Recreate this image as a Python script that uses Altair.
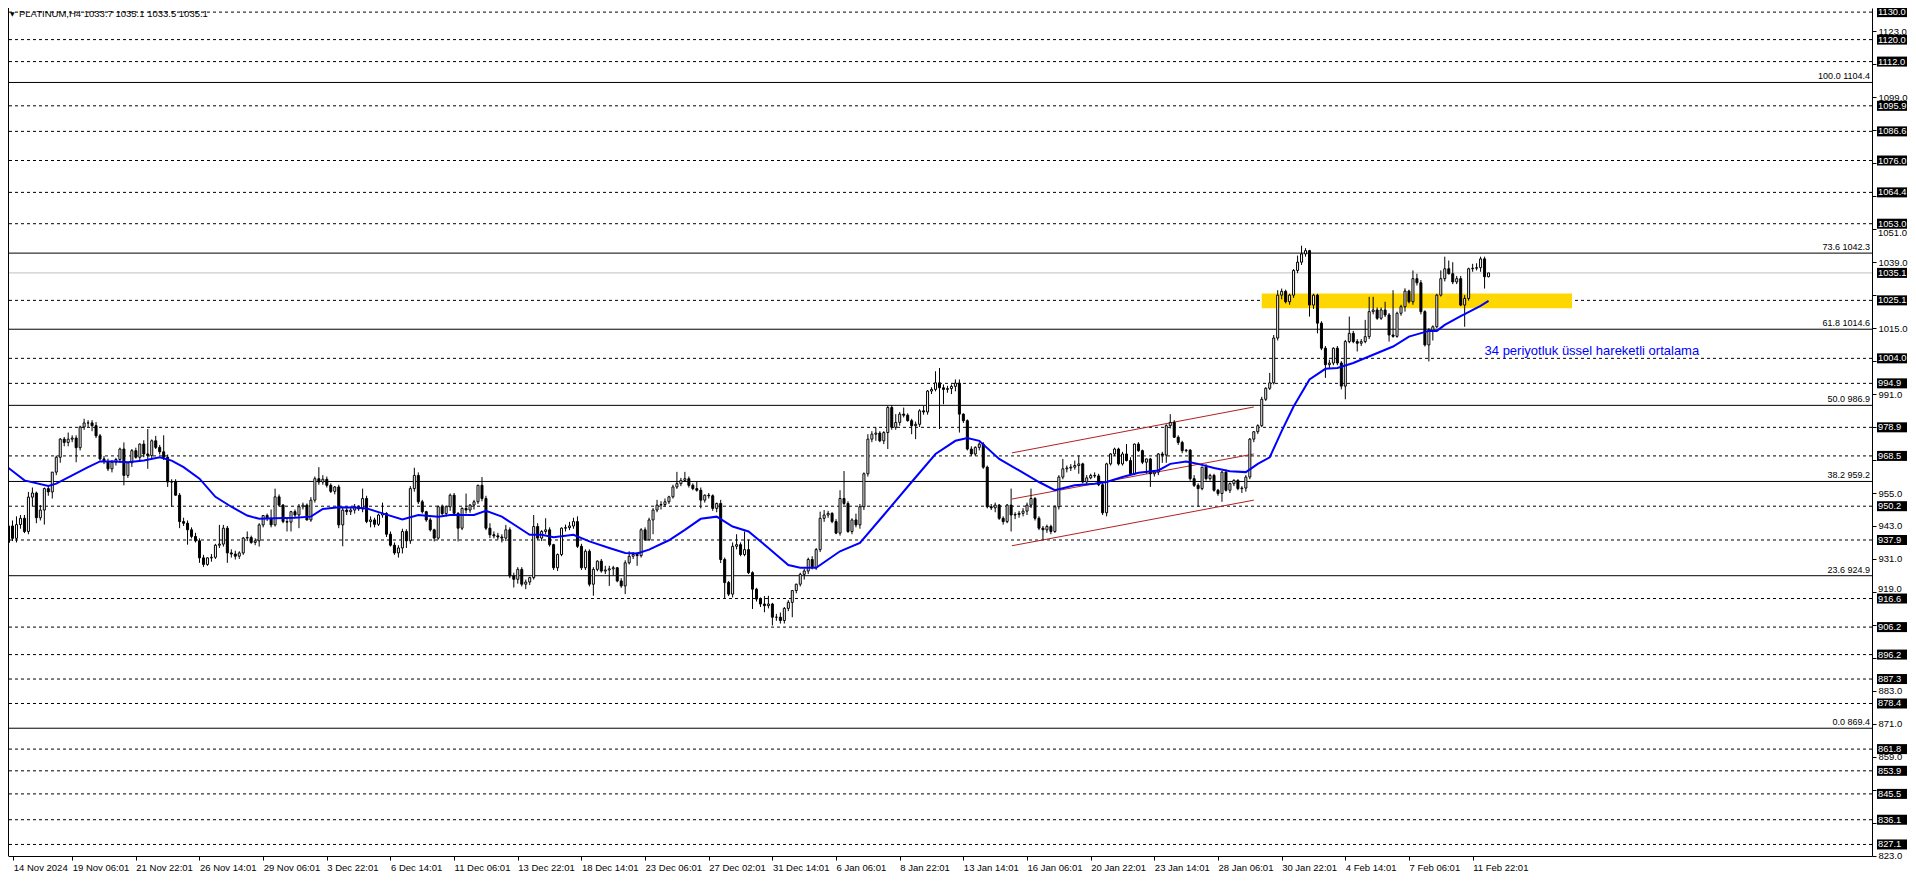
import json
import altair as alt
import pandas as pd

# ---------------- data ----------------
OPEN = [
    937.0, 943.0, 938.5, 943.5, 945.8, 941.0, 953.5, 955.0, 946.0, 948.8,
    956.6, 955.4, 962.6, 968.0, 974.6, 973.4, 974.6, 975.0, 971.5, 979.0,
    980.5, 980.5, 979.5, 975.8, 967.4, 966.5, 963.8, 966.2, 967.2, 971.0,
    961.4, 966.0, 970.4, 968.0, 972.8, 969.2, 968.6, 974.0, 971.6, 970.0,
    968.0, 959.0, 959.0, 954.2, 944.6, 944.0, 941.6, 939.2, 937.6, 931.4,
    929.0, 931.4, 931.6, 936.0, 936.4, 942.2, 933.2, 932.8, 932.0, 933.2,
    938.6, 938.8, 937.0, 937.6, 943.4, 946.8, 945.8, 943.4, 953.6, 950.6,
    944.6, 944.4, 948.2, 947.0, 950.0, 950.6, 945.2, 952.4, 960.2, 959.0,
    960.0, 957.8, 955.6, 957.2, 943.4, 948.8, 948.2, 948.8, 950.0, 949.2,
    953.0, 944.6, 945.2, 943.6, 947.0, 947.6, 940.0, 936.0, 933.2, 935.0,
    941.0, 937.6, 956.6, 961.4, 951.8, 948.2, 945.2, 941.6, 938.6, 950.0,
    947.5, 950.0, 954.2, 947.6, 942.2, 949.4, 948.8, 950.6, 951.8, 957.8,
    953.0, 942.2, 939.8, 939.4, 939.0, 938.6, 941.6, 924.8, 923.6, 927.2,
    921.8, 922.6, 924.2, 942.8, 938.6, 941.0, 941.6, 936.2, 927.8, 932.6,
    942.2, 942.4, 943.0, 944.6, 935.6, 927.8, 933.8, 921.8, 927.2, 930.2,
    926.6, 927.0, 927.4, 927.8, 923.0, 921.2, 929.6, 932.0, 932.6, 932.2,
    941.6, 938.0, 945.2, 948.8, 950.6, 950.8, 951.8, 953.6, 957.2, 958.4,
    959.6, 960.2, 957.8, 956.6, 956.0, 952.4, 954.2, 954.0, 949.4, 951.2,
    930.8, 922.4, 918.2, 935.6, 936.2, 932.6, 934.4, 926.0, 920.0, 916.4,
    914.6, 914.0, 914.6, 909.8, 909.8, 908.6, 913.0, 915.2, 919.5, 921.8,
    925.4, 926.6, 930.8, 927.8, 934.4, 945.8, 947.0, 947.6, 944.6, 940.4,
    953.0, 951.2, 941.0, 945.2, 943.4, 950.0, 962.0, 974.6, 976.4, 976.8,
    974.0, 977.0, 986.1, 978.9, 980.7, 983.7, 983.3, 981.3, 979.5, 980.0,
    984.9, 984.5, 992.1, 992.7, 995.1, 993.3, 992.7, 993.0, 993.8, 995.0,
    983.7, 981.3, 971.0, 969.2, 971.6, 972.8, 964.4, 950.0, 949.6, 950.6,
    945.8, 944.6, 950.6, 947.0, 947.2, 947.6, 948.4, 950.6, 953.0, 945.8,
    942.2, 941.6, 942.8, 941.0, 950.0, 960.8, 963.8, 964.1, 964.4, 965.0,
    965.6, 959.0, 960.5, 961.4, 961.2, 958.0, 947.8, 965.6, 969.2, 971.0,
    965.6, 969.2, 966.8, 962.0, 972.8, 970.4, 966.2, 967.4, 962.0, 962.6,
    969.2, 968.8, 979.5, 980.7, 975.3, 973.4, 970.4, 970.6, 960.2, 957.8,
    956.6, 964.4, 960.2, 961.4, 956.0, 954.8, 962.6, 956.0, 958.4, 959.6,
    956.6, 956.8, 960.8, 974.6, 977.3, 979.5, 989.1, 993.1, 995.1, 1011.4,
    1027.0, 1028.4, 1024.6, 1027.0, 1036.0, 1039.0, 1042.0, 1043.2, 1023.4, 1027.0,
    1016.8, 1007.7, 1001.7, 1002.3, 1007.7, 1002.3, 993.9, 1010.1, 1013.1, 1010.1,
    1009.5, 1010.1, 1011.9, 1021.0, 1021.6, 1018.6, 1021.6, 1019.8, 1012.5, 1012.0,
    1020.4, 1022.8, 1028.5, 1024.6, 1033.0, 1031.5, 1021.0, 1008.9, 1014.3, 1015.5,
    1027.0, 1033.0, 1036.6, 1034.8, 1031.8, 1033.0, 1023.4, 1025.8, 1036.6, 1036.8,
    1037.0, 1040.2, 1033.7,
]
HIGH = [
    944.5, 945.0, 946.5, 947.0, 947.0, 955.4, 957.0, 955.5, 950.6, 957.0,
    957.8, 962.6, 968.6, 975.0, 975.4, 977.0, 976.0, 976.0, 979.5, 982.0,
    981.5, 981.5, 980.8, 976.5, 968.5, 967.5, 967.0, 967.8, 971.5, 973.4,
    966.2, 971.0, 971.5, 973.0, 974.2, 978.3, 974.5, 975.8, 972.5, 976.0,
    969.0, 960.0, 960.0, 955.0, 946.0, 945.0, 942.5, 940.5, 938.5, 932.5,
    931.6, 932.8, 936.5, 943.4, 943.4, 943.0, 934.5, 934.0, 933.8, 939.0,
    941.0, 939.5, 938.5, 944.0, 947.0, 947.5, 949.0, 956.6, 954.5, 951.0,
    946.0, 948.5, 949.0, 951.0, 951.5, 951.2, 953.5, 961.0, 964.4, 961.5,
    961.0, 958.5, 957.5, 958.0, 949.5, 950.0, 950.0, 951.0, 950.5, 956.6,
    954.0, 946.5, 946.0, 947.5, 951.5, 948.0, 941.0, 937.0, 936.0, 942.0,
    941.8, 957.5, 964.2, 962.5, 952.5, 948.5, 946.0, 942.0, 950.5, 950.8,
    950.5, 954.8, 955.0, 948.0, 949.8, 954.8, 951.0, 952.5, 958.0, 960.8,
    954.0, 944.0, 941.0, 940.5, 940.0, 943.4, 942.5, 926.0, 928.0, 928.0,
    923.5, 924.5, 947.0, 944.0, 941.5, 945.8, 942.5, 936.5, 933.0, 942.5,
    943.5, 944.5, 946.0, 946.5, 936.5, 934.5, 934.5, 928.0, 930.5, 931.0,
    928.5, 928.5, 928.5, 928.0, 924.0, 930.5, 933.8, 933.5, 933.5, 942.2,
    942.5, 946.0, 949.5, 952.5, 952.0, 953.0, 954.0, 958.0, 962.7, 960.5,
    962.7, 961.0, 958.5, 959.2, 957.0, 954.5, 955.0, 954.5, 951.5, 952.5,
    931.5, 923.0, 937.0, 940.0, 937.0, 941.0, 938.0, 926.5, 920.5, 917.0,
    917.5, 917.6, 915.0, 911.0, 911.5, 913.5, 916.0, 919.5, 922.0, 926.0,
    927.5, 931.5, 932.0, 935.0, 948.2, 948.8, 948.5, 948.0, 945.5, 956.0,
    963.0, 952.0, 945.8, 947.5, 951.0, 962.5, 976.4, 977.5, 978.9, 977.5,
    977.5, 986.7, 987.0, 983.7, 984.5, 986.1, 984.0, 982.0, 981.0, 985.5,
    986.7, 992.5, 993.5, 999.3, 1000.5, 994.5, 994.0, 994.5, 996.3, 996.3,
    984.0, 981.8, 972.0, 972.0, 973.5, 973.5, 965.0, 951.0, 951.5, 951.0,
    946.5, 951.0, 956.6, 948.0, 948.5, 949.5, 951.5, 956.6, 953.5, 946.5,
    943.0, 943.5, 943.5, 950.5, 961.5, 967.4, 965.0, 965.5, 966.8, 968.6,
    966.0, 961.5, 962.0, 962.5, 962.0, 959.0, 966.0, 969.5, 971.5, 971.5,
    970.0, 972.8, 968.0, 973.0, 973.5, 970.8, 967.5, 967.8, 963.0, 969.5,
    970.0, 980.0, 983.7, 981.5, 976.0, 974.0, 971.0, 971.0, 961.5, 958.5,
    964.5, 965.5, 962.0, 962.0, 956.5, 963.0, 963.5, 958.8, 960.0, 960.0,
    957.5, 961.5, 975.0, 977.5, 980.0, 990.0, 993.5, 998.7, 1012.5, 1028.8,
    1029.4, 1029.0, 1027.5, 1036.5, 1041.4, 1045.0, 1044.1, 1043.5, 1027.5, 1027.5,
    1017.5, 1008.5, 1003.5, 1008.0, 1008.5, 1003.0, 1010.7, 1019.2, 1014.0, 1011.0,
    1011.0, 1018.0, 1026.4, 1026.4, 1022.5, 1022.5, 1024.6, 1020.5, 1028.8, 1021.0,
    1023.5, 1029.5, 1029.0, 1036.0, 1034.8, 1032.5, 1021.5, 1015.0, 1016.0, 1027.5,
    1036.0, 1041.0, 1039.6, 1039.0, 1034.0, 1034.0, 1027.0, 1037.0, 1038.4, 1038.6,
    1041.0, 1041.0, 1035.1,
]
LOW = [
    933.8, 937.5, 937.0, 942.0, 940.4, 940.0, 950.0, 944.0, 945.0, 943.5,
    954.0, 953.0, 961.5, 966.0, 972.0, 972.0, 973.5, 966.2, 970.5, 978.0,
    979.0, 977.5, 975.0, 966.8, 965.5, 963.0, 962.5, 965.0, 966.0, 957.8,
    960.5, 964.5, 967.5, 967.0, 968.0, 963.8, 967.5, 971.0, 969.0, 967.0,
    957.2, 950.0, 954.0, 942.2, 943.0, 936.2, 938.5, 937.0, 929.6, 928.1,
    928.5, 930.0, 931.0, 935.0, 935.5, 929.6, 931.5, 930.8, 931.0, 932.5,
    937.5, 936.5, 936.0, 935.5, 942.5, 944.8, 942.5, 942.8, 950.0, 944.0,
    941.0, 941.0, 946.0, 942.2, 949.0, 945.0, 944.5, 951.5, 958.0, 958.0,
    957.0, 955.0, 954.5, 942.2, 935.6, 947.0, 947.0, 947.5, 948.5, 948.0,
    944.0, 942.5, 942.5, 943.0, 946.0, 939.0, 935.5, 932.5, 931.5, 933.0,
    935.0, 936.5, 955.5, 951.0, 947.5, 944.5, 941.0, 937.4, 938.0, 947.0,
    946.5, 948.5, 947.0, 937.4, 941.5, 947.5, 947.8, 949.0, 951.0, 952.0,
    941.5, 938.6, 938.5, 938.0, 937.0, 937.5, 924.0, 920.6, 922.0, 921.0,
    920.0, 921.5, 923.5, 938.0, 937.5, 940.0, 935.5, 927.0, 926.6, 932.0,
    941.0, 941.5, 942.0, 935.0, 927.0, 927.0, 921.0, 917.6, 926.5, 926.0,
    925.5, 921.2, 925.0, 922.5, 920.5, 918.2, 929.0, 931.0, 928.5, 931.5,
    937.5, 937.5, 940.0, 948.0, 949.0, 950.0, 951.0, 953.0, 956.5, 957.5,
    959.0, 957.0, 956.0, 955.5, 949.4, 951.5, 953.0, 948.5, 948.0, 929.5,
    916.7, 917.5, 917.0, 934.5, 932.0, 932.0, 925.5, 912.8, 915.5, 913.5,
    911.6, 913.0, 906.8, 908.5, 907.5, 907.5, 912.0, 909.8, 918.5, 921.0,
    923.5, 925.5, 927.2, 927.0, 933.5, 944.5, 946.0, 944.0, 940.0, 939.5,
    950.5, 940.5, 940.0, 942.5, 942.0, 948.8, 961.0, 973.5, 974.0, 973.5,
    972.8, 971.0, 978.0, 978.0, 979.5, 982.5, 981.0, 976.4, 974.6, 979.0,
    983.5, 983.5, 991.0, 992.0, 978.3, 987.3, 991.5, 991.0, 992.0, 977.0,
    980.5, 970.5, 968.5, 968.5, 970.5, 963.8, 949.4, 948.8, 948.0, 945.2,
    943.5, 944.0, 941.0, 945.5, 946.0, 946.5, 947.0, 949.5, 945.0, 941.5,
    938.0, 940.5, 940.0, 940.5, 949.0, 960.0, 962.5, 963.0, 963.5, 962.0,
    958.5, 958.0, 960.0, 960.5, 957.5, 947.0, 946.5, 965.0, 968.5, 965.0,
    965.0, 966.5, 961.5, 961.5, 970.0, 965.5, 962.0, 957.2, 961.0, 961.5,
    966.0, 966.0, 978.5, 975.0, 972.5, 969.5, 969.8, 959.5, 957.2, 950.0,
    956.0, 959.5, 959.5, 955.5, 954.0, 951.8, 955.5, 955.0, 957.5, 956.0,
    955.0, 955.5, 960.0, 973.5, 976.5, 979.0, 988.5, 992.5, 994.5, 1010.5,
    1025.5, 1024.0, 1023.5, 1026.0, 1035.0, 1038.0, 1041.0, 1019.2, 1022.0, 1013.1,
    1007.0, 996.9, 1000.5, 1001.5, 1001.5, 992.7, 989.1, 1009.5, 1009.5, 1006.5,
    1008.5, 1009.5, 1011.0, 1020.0, 1018.0, 1018.0, 1019.0, 1010.1, 1011.5, 1011.5,
    1019.5, 1021.0, 1024.0, 1023.5, 1030.5, 1020.0, 1008.3, 1002.9, 1010.5, 1015.0,
    1026.5, 1032.0, 1034.5, 1031.0, 1031.0, 1023.0, 1015.5, 1025.0, 1035.5, 1036.0,
    1035.5, 1029.4, 1033.5,
]
CLOSE = [
    943.0, 938.5, 943.5, 945.8, 941.0, 953.5, 955.0, 946.0, 948.8, 956.6,
    955.4, 962.6, 968.0, 974.6, 973.4, 974.6, 975.0, 971.5, 979.0, 980.5,
    980.5, 979.5, 975.8, 967.4, 966.5, 963.8, 966.2, 967.2, 971.0, 961.4,
    966.0, 970.4, 968.0, 972.8, 969.2, 968.6, 974.0, 971.6, 970.0, 968.0,
    959.0, 959.0, 954.2, 944.6, 944.0, 941.6, 939.2, 937.6, 931.4, 929.0,
    931.4, 931.6, 936.0, 936.4, 942.2, 933.2, 932.8, 932.0, 933.2, 938.6,
    938.8, 937.0, 937.6, 943.4, 946.8, 945.8, 943.4, 953.6, 950.6, 944.6,
    944.4, 948.2, 947.0, 950.0, 950.6, 945.2, 952.4, 960.2, 959.0, 960.0,
    957.8, 955.6, 957.2, 943.4, 948.8, 948.2, 948.8, 950.0, 949.2, 953.0,
    944.6, 945.2, 943.6, 947.0, 947.6, 940.0, 936.0, 933.2, 935.0, 941.0,
    937.6, 956.6, 961.4, 951.8, 948.2, 945.2, 941.6, 938.6, 950.0, 947.5,
    950.0, 954.2, 947.6, 942.2, 949.4, 948.8, 950.6, 951.8, 957.8, 953.0,
    942.2, 939.8, 939.4, 939.0, 938.6, 941.6, 924.8, 923.6, 927.2, 921.8,
    922.6, 924.2, 942.8, 938.6, 941.0, 941.6, 936.2, 927.8, 932.6, 942.2,
    942.4, 943.0, 944.6, 935.6, 927.8, 933.8, 921.8, 927.2, 930.2, 926.6,
    927.0, 927.4, 927.8, 923.0, 921.2, 929.6, 932.0, 932.6, 932.2, 941.6,
    938.0, 945.2, 948.8, 950.6, 950.8, 951.8, 953.6, 957.2, 958.4, 959.6,
    960.2, 957.8, 956.6, 956.0, 952.4, 954.2, 954.0, 949.4, 951.2, 930.8,
    922.4, 918.2, 935.6, 936.2, 932.6, 934.4, 926.0, 920.0, 916.4, 914.6,
    914.0, 914.6, 909.8, 909.8, 908.6, 913.0, 915.2, 919.5, 921.8, 925.4,
    926.6, 930.8, 927.8, 934.4, 945.8, 947.0, 947.6, 944.6, 940.4, 953.0,
    951.2, 941.0, 945.2, 943.4, 950.0, 962.0, 974.6, 976.4, 976.8, 974.0,
    977.0, 986.1, 978.9, 980.7, 983.7, 983.3, 981.3, 979.5, 980.0, 984.9,
    984.5, 992.1, 992.7, 995.1, 993.3, 992.7, 993.0, 993.8, 995.0, 983.7,
    981.3, 971.0, 969.2, 971.6, 972.8, 964.4, 950.0, 949.6, 950.6, 945.8,
    944.6, 950.6, 947.0, 947.2, 947.6, 948.4, 950.6, 953.0, 945.8, 942.2,
    941.6, 942.8, 941.0, 950.0, 960.8, 963.8, 964.1, 964.4, 965.0, 965.6,
    959.0, 960.5, 961.4, 961.2, 958.0, 947.8, 965.6, 969.2, 971.0, 965.6,
    969.2, 966.8, 962.0, 972.8, 970.4, 966.2, 967.4, 962.0, 962.6, 969.2,
    968.8, 979.5, 980.7, 975.3, 973.4, 970.4, 970.6, 960.2, 957.8, 956.6,
    964.4, 960.2, 961.4, 956.0, 954.8, 962.6, 956.0, 958.4, 959.6, 956.6,
    956.8, 960.8, 974.6, 977.3, 979.5, 989.1, 993.1, 995.1, 1011.4, 1027.0,
    1028.4, 1024.6, 1027.0, 1036.0, 1039.0, 1042.0, 1043.2, 1023.4, 1027.0, 1016.8,
    1007.7, 1001.7, 1002.3, 1007.7, 1002.3, 993.9, 1010.1, 1013.1, 1010.1, 1009.5,
    1010.1, 1011.9, 1021.0, 1021.6, 1018.6, 1021.6, 1019.8, 1012.5, 1012.0, 1020.4,
    1022.8, 1028.5, 1024.6, 1033.0, 1031.5, 1021.0, 1008.9, 1014.3, 1015.5, 1027.0,
    1033.0, 1036.6, 1034.8, 1031.8, 1033.0, 1023.4, 1025.8, 1036.6, 1036.8, 1037.0,
    1040.2, 1033.7, 1035.1,
]

# 34-period exponential moving average
EMA_BAR = [0, 4, 10, 12, 16, 20, 23, 27, 30, 34, 38, 41, 44, 48, 52, 56, 60, 63, 67, 72,
           76, 79, 83, 87, 90, 94, 99, 103, 108, 111, 117, 120, 124, 131, 134, 137, 142, 146, 151, 155,
           158, 161, 166, 170, 174, 178, 182, 186, 191, 196, 199, 203, 206, 209, 214, 220, 227, 233, 238, 241,
           244, 249, 254, 259, 263, 268, 273, 276, 280, 284, 289, 292, 296, 299, 303, 307, 311, 314, 317, 320,
           323, 327, 331, 334, 338, 343, 348, 352, 357, 359, 361, 365, 366, 370, 372]
EMA_VAL = [964.1, 959.6, 957.6, 958.4, 961.4, 964.4, 966.5, 966.5, 966.2, 966.8, 968.0, 966.8, 964.4, 960.2, 953.6, 950.0, 946.8, 945.6, 945.8, 946.0,
           946.4, 949.2, 949.8, 949.7, 949.4, 947.6, 945.4, 947.0, 946.4, 947.0, 947.0, 948.5, 946.4, 939.8, 939.8, 938.9, 939.8, 937.4, 935.0, 933.2,
           933.0, 934.4, 937.8, 941.6, 945.6, 946.4, 942.8, 941.0, 935.0, 928.8, 927.8, 927.8, 930.8, 933.8, 936.8, 947.0, 959.0, 969.2, 974.0, 975.0,
           974.0, 967.4, 963.2, 959.0, 956.0, 957.8, 958.4, 959.0, 960.8, 962.4, 963.2, 965.6, 966.5, 965.6, 964.1, 962.9, 962.6, 965.6, 968.0, 977.5,
           986.5, 996.3, 1000.2, 1000.5, 1002.3, 1005.3, 1008.3, 1011.9, 1014.0, 1014.0, 1016.2, 1019.4, 1020.1, 1023.1, 1024.9]

DASHED_LEVELS = [1130.0, 1120.0, 1112.0, 1095.9, 1086.6, 1076.0, 1064.4, 1053.0, 1025.1, 1004.0,
                 994.9, 978.9, 968.5, 950.2, 937.9, 916.6, 906.2, 896.2, 887.3, 878.4,
                 861.8, 853.9, 845.5, 836.1, 827.1]
FIB_PCT = ["100.0", "73.6", "61.8", "50.0", "38.2", "23.6", "0.0"]
FIB_LEVELS = [1104.4, 1042.3, 1014.6, 986.9, 959.2, 924.9, 869.4]
CURRENT_PRICE = 1035.1
AXIS_TICKS = [823.0, 835.0, 847.0, 859.0, 871.0, 883.0, 895.0, 907.0, 919.0, 931.0, 943.0, 955.0, 967.0,
              979.0, 991.0, 1003.0, 1015.0, 1027.0, 1039.0, 1051.0, 1063.0, 1075.0, 1087.0, 1099.0, 1111.0, 1123.0]
# axis labels that stay readable next to the black level boxes
AXIS_LABELS_SHOWN = [823.0, 859.0, 871.0, 883.0, 931.0, 943.0, 955.0, 991.0, 1015.0,
                     1039.0, 1099.0, 1123.0]
# labels squeezed against a box: drawn nudged clear of it
NUDGED_LABELS = [1051.0, 919.0]
NUDGE_PX = [3.5, -3.0]

X_TICK_BARS = [0, 16, 32, 48, 64, 80, 96, 112, 128, 144, 160, 176, 192, 208, 224, 240, 256, 272,
               288, 304, 320, 336, 352, 368]
X_TICK_LABELS = ["14 Nov 2024", "19 Nov 06:01", "21 Nov 22:01", "26 Nov 14:01", "29 Nov 06:01",
                 "3 Dec 22:01", "6 Dec 14:01", "11 Dec 06:01", "13 Dec 22:01", "18 Dec 14:01",
                 "23 Dec 06:01", "27 Dec 02:01", "31 Dec 14:01", "6 Jan 06:01", "8 Jan 22:01",
                 "13 Jan 14:01", "16 Jan 06:01", "20 Jan 22:01", "23 Jan 14:01", "28 Jan 06:01",
                 "30 Jan 22:01", "4 Feb 14:01", "7 Feb 06:01", "11 Feb 22:01"]

CHANNEL_X0 = [252.2, 252.2, 252.2]
CHANNEL_X1 = [313.0, 313.0, 313.0]
CHANNEL_Y0 = [969.6, 952.8, 935.8]
CHANNEL_Y1 = [986.3, 969.2, 952.4]

ZONE_BARS = [315, 393]
ZONE_PRICES = [1022.2, 1027.6]

NOTE_TEXT = "34 periyotluk üssel hareketli ortalama"
NOTE_BAR = 371
NOTE_PRICE = 1006.5

SYMBOL = "PLATINUM,H4"

# ---------------- chart ----------------
N = len(CLOSE)
assert len(OPEN) == N and len(HIGH) == N and len(LOW) == N, (len(OPEN), len(HIGH), len(LOW), N)

W, H = 1864, 848
FONT = "Liberation Sans"
XS = alt.Scale(domain=[1.125, 1.125 + W / 4.0], zero=False, nice=False)
YS = alt.Scale(domain=[822.9, 1131.5], zero=False, nice=False)

x_axis = alt.Axis(
    values=[max(v, 1.2) for v in X_TICK_BARS],
    labelExpr=json.dumps(X_TICK_LABELS) + "[round(datum.value / 16)]",
    orient="bottom", title=None, grid=False, tickSize=4, tickColor="black",
    domainColor="black", labelColor="black", labelFont=FONT, labelFontSize=9.5,
    labelAlign="left", labelBaseline="top", labelPadding=2, labelOverlap=False,
    labelFlush=False, labelBound=False,
)
y_axis = alt.Axis(
    values=AXIS_TICKS,
    labelExpr="indexof(" + json.dumps(AXIS_LABELS_SHOWN) + ", datum.value) >= 0 ? format(datum.value, '.1f') : ''",
    orient="right", title=None, grid=False,
    tickSize=4, tickColor="black", domainColor="black", labelColor="black",
    labelFont=FONT, labelFontSize=9.5, labelAlign="left", labelBaseline="middle",
    labelPadding=2, labelOverlap=False, labelFlush=False, labelBound=False,
)


def X(f):
    return alt.X(f, type="quantitative", scale=XS, axis=x_axis)


def Y(f):
    return alt.Y(f, type="quantitative", scale=YS, axis=y_axis)


candles = pd.DataFrame({"i": list(range(N)), "o": OPEN, "h": HIGH, "l": LOW, "c": CLOSE})
candles["dir"] = ["up" if c >= o else "down" for o, c in zip(OPEN, CLOSE)]
ema = pd.DataFrame({"b": EMA_BAR, "v": EMA_VAL})
dashed_df = pd.DataFrame({"p": DASHED_LEVELS})
fib_df = pd.DataFrame({"p": FIB_LEVELS,
                       "label": [f"{a} {b:.1f}" for a, b in zip(FIB_PCT, FIB_LEVELS)]})
cur_df = pd.DataFrame({"p": [CURRENT_PRICE]})
box_df = pd.DataFrame({"p": DASHED_LEVELS + [CURRENT_PRICE]})
box_df["label"] = [f"{v:.1f}" for v in box_df["p"]]
chan_df = pd.DataFrame({"x0": CHANNEL_X0, "x1": CHANNEL_X1, "y0": CHANNEL_Y0, "y1": CHANNEL_Y1})
zone_df = pd.DataFrame({"x0": [ZONE_BARS[0]], "x1": [ZONE_BARS[1]],
                        "y0": [ZONE_PRICES[0]], "y1": [ZONE_PRICES[1]]})
note_df = pd.DataFrame({"b": [NOTE_BAR], "p": [NOTE_PRICE], "t": [NOTE_TEXT]})
title_df = pd.DataFrame({"t": [f"{SYMBOL}  {OPEN[-1]:.1f} {HIGH[-1]:.1f} {LOW[-1]:.1f} {CLOSE[-1]:.1f}"]})
one_df = pd.DataFrame({"k": [0]})

dashed = alt.Chart(dashed_df).mark_rule(color="black", strokeWidth=1, strokeDash=[3, 3]).encode(y=Y("p"))
fib = alt.Chart(fib_df).mark_rule(color="black", strokeWidth=1).encode(y=Y("p"))
cur = alt.Chart(cur_df).mark_rule(color="#c0c0c0", strokeWidth=1).encode(y=Y("p"))
zone = alt.Chart(zone_df).mark_rect(color="#FFD700", clip=True).encode(
    x=X("x0"), x2=alt.X2("x1"), y=Y("y0"), y2=alt.Y2("y1"))
chan = alt.Chart(chan_df).mark_rule(color="#b22222", strokeWidth=1, clip=True).encode(
    x=X("x0"), x2=alt.X2("x1"), y=Y("y0"), y2=alt.Y2("y1"))
wick = alt.Chart(candles).mark_rule(color="black", strokeWidth=1, clip=True).encode(
    x=X("i"), y=Y("l"), y2=alt.Y2("h"))
body = alt.Chart(candles).mark_bar(size=2, stroke="black", strokeWidth=1, clip=True).encode(
    x=X("i"), y=Y("o"), y2=alt.Y2("c"),
    fill=alt.Fill("dir:N", scale=alt.Scale(domain=["up", "down"], range=["white", "black"]), legend=None))
ema_line = alt.Chart(ema).mark_line(color="#0000ff", strokeWidth=2, clip=True).encode(x=X("b"), y=Y("v"))
fib_text = alt.Chart(fib_df).mark_text(align="right", baseline="bottom", dy=-1, fontSize=9,
                                        font=FONT, color="black").encode(
    x=alt.value(W - 2), y=Y("p"), text="label:N")
note = alt.Chart(note_df).mark_text(align="left", baseline="middle", fontSize=13, font=FONT,
                                    color="#0000ff").encode(x=X("b"), y=Y("p"), text="t:N")
boxes = alt.Chart(box_df).mark_tick(orient="horizontal", color="black", thickness=10, size=30,
                                    opacity=1).encode(x=alt.value(W + 20), y=Y("p"))
box_text = alt.Chart(box_df).mark_text(align="left", baseline="middle", color="white", fontSize=9.3,
                                       font=FONT).encode(x=alt.value(W + 6), y=Y("p"), text="label:N")
nudged = []
for val, dy in zip(NUDGED_LABELS, NUDGE_PX):
    ndf = pd.DataFrame({"p": [val], "label": [f"{val:.1f}"]})
    nudged.append(
        alt.Chart(ndf).mark_text(align="left", baseline="middle", dy=dy, color="black", fontSize=9.5,
                                 font=FONT).encode(x=alt.value(W + 6), y=Y("p"), text="label:N"))
title = alt.Chart(title_df).mark_text(align="left", baseline="middle", fontSize=9.5, font=FONT,
                                      color="black").encode(x=alt.value(11), y=alt.value(6), text="t:N")
tri = alt.Chart(one_df).mark_text(text="▼", align="left", baseline="middle", fontSize=6,
                                  font="DejaVu Sans", color="black").encode(x=alt.value(2), y=alt.value(6))
border = alt.Chart(one_df).mark_rule(color="black", strokeWidth=1).encode(
    x=alt.value(0.5), y=alt.value(0), y2=alt.value(H))

chart = alt.layer(
    dashed, fib, cur, zone, chan, wick, body, ema_line, fib_text, note, *nudged, boxes, box_text,
    title, tri, border
).properties(
    width=W, height=H,
    autosize=alt.AutoSizeParams(type="none"),
    padding={"left": 0, "top": 0, "right": 36, "bottom": 17},
).configure(background="white", font=FONT).configure_view(stroke=None)

chart.save("out.html", embed_options={"renderer": "svg", "actions": False})
